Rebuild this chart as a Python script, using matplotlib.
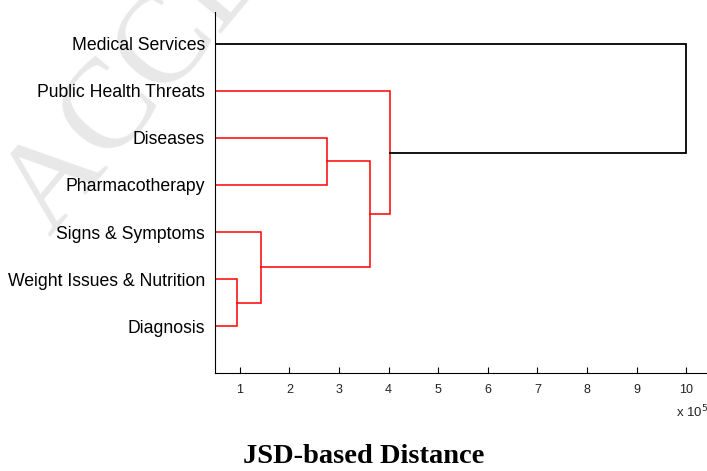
import matplotlib.pyplot as plt

# leaves, bottom to top as they appear on the dendrogram
leaves = ["Diagnosis", "Weight Issues & Nutrition", "Signs & Symptoms",
          "Pharmacotherapy", "Diseases", "Public Health Threats", "Medical Services"]

# linkage: (child a, child b, merge distance in units of 1e5)
# children index leaves 0..6, merged clusters continue from 7
merges = [
    (0, 1, 0.95),
    (2, 7, 1.42),
    (3, 4, 2.76),
    (8, 9, 3.62),
    (5, 10, 4.03),
    (6, 11, 9.99),
]
color_threshold = 5.0

fig = plt.figure(figsize=(7.07, 4.71), dpi=100)
ax = fig.add_axes([0.304, 0.208, 0.7016, 0.7665])
ax.patch.set_visible(False)

pos = {i: i + 1 for i in range(len(leaves))}
height = {i: 0.0 for i in range(len(leaves))}
for k, (a, b, h) in enumerate(merges):
    node = len(leaves) + k
    c = "red" if h < color_threshold else "black"
    lw = 1.1 if c == "red" else 1.3
    ax.plot([height[a], h, h, height[b]], [pos[a], pos[a], pos[b], pos[b]],
            color=c, lw=lw, solid_joinstyle="miter")
    pos[node] = (pos[a] + pos[b]) / 2
    height[node] = h

ax.set_xlim(0.5, 10.5)
ax.set_ylim(0, 7.68)
ax.set_xticks(range(1, 11))
ax.set_yticks(range(1, len(leaves) + 1))
ax.set_yticklabels(leaves, fontsize=12.7, family="Liberation Sans")
ax.tick_params(axis="y", length=0, pad=7)
ax.tick_params(axis="x", direction="in", length=4, width=0.8, pad=8,
               labelsize=9, labelcolor="#222222")
for lab in ax.get_xticklabels():
    lab.set_family("Liberation Sans")
ax.spines["top"].set_visible(False)
ax.spines["right"].set_visible(False)
ax.spines["left"].set_linewidth(0.8)
ax.spines["bottom"].set_linewidth(0.8)

ax.text(0.995, -0.108, r"x 10$^5$", transform=ax.transAxes, ha="right",
        va="center", fontsize=9.5, family="Liberation Sans", color="#222222")

# faint manuscript watermark behind everything
fig.text(-0.025, 0.46, "ACCEPTED MANUSCRIPT", rotation=50, fontsize=92,
         family="Liberation Serif", color="#e8e8e8", ha="left", va="bottom",
         zorder=-5)

fig.text(0.515, 0.016, "JSD-based Distance", ha="center", va="baseline",
         fontsize=20.5, fontweight="bold", family="Liberation Serif")

fig.savefig("out.png", dpi=100)
